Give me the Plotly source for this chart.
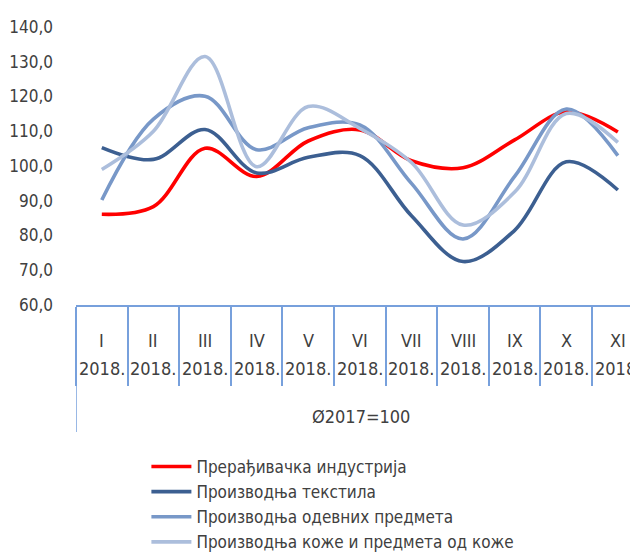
import plotly.graph_objects as go

months = ["I", "II", "III", "IV", "V", "VI", "VII", "VIII", "IX", "X", "XI"]
year_label = "2018."
axis_title = "Ø2017=100"
series_names = [
    "Прерађивачка индустрија",
    "Производња текстила",
    "Производња одевних предмета",
    "Производња коже и предмета од коже",
]
manufacturing = [86.1, 88.3, 105.1, 97.0, 107.2, 110.4, 101.5, 99.5, 107.5, 115.6, 109.8]
textiles = [105.3, 101.9, 110.5, 98.0, 102.5, 103.0, 85.7, 72.5, 81.5, 101.2, 93.1]
apparel = [90.2, 113.5, 120.1, 104.7, 111.0, 111.8, 95.0, 79.0, 97.0, 116.4, 103.0]
leather = [99.0, 110.0, 131.5, 99.8, 117.1, 110.8, 101.0, 83.0, 92.5, 115.1, 106.8]
y_ticks = [60, 70, 80, 90, 100, 110, 120, 130, 140]

colors = ["#ff0000", "#3c5f91", "#7898c8", "#acbedc"]
FONT = "DejaVu Sans Condensed, Liberation Sans Narrow, sans-serif"
TXT = "#404040"
AXC = "#77a0dc"

PLOT_H = 278  # pixel height of plotting area (for paper-coordinate placement)

xs = list(range(len(months)))
fig = go.Figure()
for name, vals, c in zip(series_names, [manufacturing, textiles, apparel, leather], colors):
    fig.add_trace(go.Scatter(x=xs, y=vals, name=name, mode="lines",
                             line=dict(color=c, width=3.6, shape="spline", smoothing=1.0)))

boundaries = [i - 0.5 for i in xs]

def py(pix_below_axis):
    return -pix_below_axis / PLOT_H

fig.update_layout(
    width=638, height=554,
    margin=dict(l=68, r=0, t=19, b=257, autoexpand=False),
    paper_bgcolor="white", plot_bgcolor="white",
    separators=", ",
    font=dict(family=FONT, color=TXT, size=17),
    showlegend=True,
    legend=dict(x=0.1235, y=py(255), xanchor="left", yanchor="bottom",
                font=dict(family=FONT, size=17, color=TXT),
                itemwidth=40, tracegroupgap=0, bgcolor="rgba(0,0,0,0)"),
    xaxis=dict(range=[-0.5, 10.545], showgrid=False, zeroline=False,
               showline=True, linecolor=AXC, linewidth=1.5,
               tickmode="array", tickvals=boundaries, ticktext=[""] * len(boundaries),
               ticks="outside", ticklen=79, tickcolor=AXC, tickwidth=1.5,
               showticklabels=False, fixedrange=True),
    yaxis=dict(range=[60, 140], tickmode="array", tickvals=y_ticks,
               tickformat=".1f", showgrid=False, zeroline=False, showline=False,
               ticks="", ticklabelstandoff=22,
               tickfont=dict(family=FONT, size=17, color=TXT), fixedrange=True),
)

# category labels (two rows) centered in each category cell
for i, m in enumerate(months):
    fig.add_annotation(x=i, xref="x", y=py(35), yref="paper",
                       text=m, showarrow=False, xanchor="center", yanchor="middle",
                       font=dict(family=FONT, size=18, color=TXT))
    fig.add_annotation(x=i, xref="x", y=py(63), yref="paper",
                       text=year_label, showarrow=False, xanchor="center", yanchor="middle",
                       font=dict(family=FONT, size=18, color=TXT))

# outer category level label
fig.add_annotation(x=0.5, xref="paper", y=py(111), yref="paper", text=axis_title,
                   showarrow=False, xanchor="center", yanchor="middle",
                   font=dict(family=FONT, size=18, color=TXT))

# outer level left divider
fig.add_shape(type="line", xref="x", yref="paper", x0=boundaries[0], x1=boundaries[0],
              y0=0, y1=py(127), line=dict(color=AXC, width=1.5))

fig.write_html("out.html")
